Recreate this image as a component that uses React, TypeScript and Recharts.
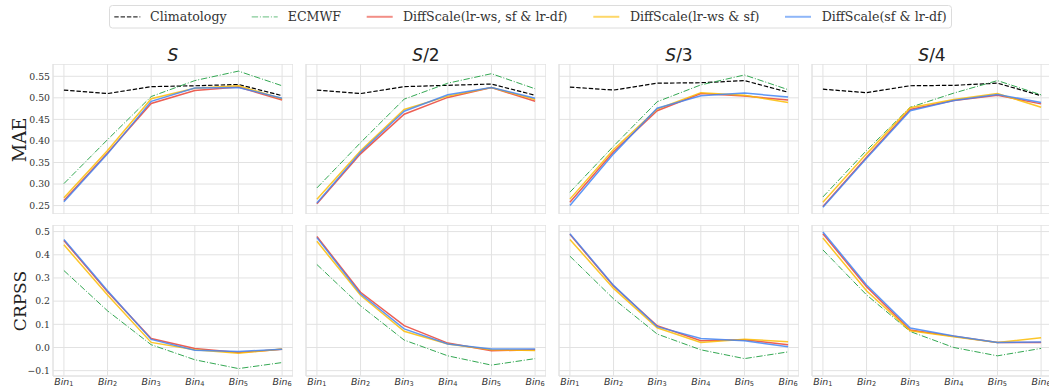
import React from 'react';
import { LineChart, Line, XAxis, YAxis, CartesianGrid, ReferenceArea } from 'recharts';

// ---------- data ----------
const BINS = [1, 2, 3, 4, 5, 6];
const PANEL_TITLES = [['S', ''], ['S', '/2'], ['S', '/3'], ['S', '/4']];
const MAE_TICKS = [0.25, 0.3, 0.35, 0.4, 0.45, 0.5, 0.55];
const CRPSS_TICKS = [-0.1, 0.0, 0.1, 0.2, 0.3, 0.4, 0.5];
const SERIES_NAMES = ['Climatology', 'ECMWF', 'DiffScale(lr-ws, sf & lr-df)', 'DiffScale(lr-ws & sf)', 'DiffScale(sf & lr-df)'];

// MAE, one row per panel (S, S/2, S/3, S/4)
const climatologyMAE = [
  [0.518, 0.510, 0.526, 0.528, 0.531, 0.505],
  [0.518, 0.510, 0.526, 0.529, 0.532, 0.506],
  [0.525, 0.518, 0.534, 0.535, 0.540, 0.513],
  [0.520, 0.512, 0.528, 0.529, 0.534, 0.505],
];
const ecmwfMAE = [
  [0.301, 0.403, 0.503, 0.540, 0.562, 0.528],
  [0.291, 0.396, 0.497, 0.534, 0.556, 0.521],
  [0.281, 0.388, 0.491, 0.530, 0.553, 0.519],
  [0.270, 0.378, 0.478, 0.511, 0.540, 0.507],
];
const diffAllMAE = [
  [0.262, 0.372, 0.487, 0.517, 0.525, 0.495],
  [0.254, 0.370, 0.462, 0.501, 0.524, 0.492],
  [0.258, 0.375, 0.470, 0.510, 0.504, 0.495],
  [0.248, 0.362, 0.473, 0.494, 0.506, 0.486],
];
const diffWsSfMAE = [
  [0.268, 0.378, 0.498, 0.522, 0.528, 0.498],
  [0.265, 0.377, 0.473, 0.504, 0.524, 0.496],
  [0.265, 0.380, 0.474, 0.512, 0.506, 0.489],
  [0.258, 0.370, 0.477, 0.496, 0.510, 0.478],
];
const diffSfDfMAE = [
  [0.259, 0.370, 0.492, 0.523, 0.524, 0.499],
  [0.256, 0.374, 0.469, 0.507, 0.524, 0.499],
  [0.250, 0.370, 0.476, 0.505, 0.511, 0.502],
  [0.246, 0.360, 0.470, 0.494, 0.508, 0.489],
];

// CRPSS
const ecmwfCRPSS = [
  [0.332, 0.158, 0.012, -0.053, -0.091, -0.065],
  [0.358, 0.180, 0.032, -0.036, -0.076, -0.048],
  [0.394, 0.210, 0.058, -0.010, -0.048, -0.019],
  [0.421, 0.227, 0.069, 0.000, -0.036, -0.004],
];
const diffAllCRPSS = [
  [0.462, 0.240, 0.039, -0.004, -0.022, -0.008],
  [0.479, 0.238, 0.094, 0.019, -0.014, -0.010],
  [0.488, 0.265, 0.094, 0.029, 0.033, 0.012],
  [0.491, 0.262, 0.075, 0.048, 0.022, 0.022],
];
const diffWsSfCRPSS = [
  [0.443, 0.226, 0.022, -0.010, -0.025, -0.007],
  [0.458, 0.225, 0.070, 0.015, -0.010, -0.013],
  [0.466, 0.255, 0.085, 0.022, 0.036, 0.025],
  [0.472, 0.245, 0.072, 0.046, 0.022, 0.042],
];
const diffSfDfCRPSS = [
  [0.466, 0.245, 0.035, -0.012, -0.017, -0.008],
  [0.474, 0.232, 0.080, 0.015, -0.007, -0.007],
  [0.491, 0.268, 0.090, 0.039, 0.029, 0.003],
  [0.498, 0.270, 0.084, 0.050, 0.022, 0.024],
];

// ---------- style ----------
const COLORS = { clim: '#000000', ecmwf: '#34A853', all: '#EA4335', wssf: '#FBBC05', sfdf: '#4285F4' };
const GRID = '#e2e2e2';
const TXT = '#333333';
const PLOT_LEFTS = [53, 306, 559, 812];
const PLOT_W = 240;
const YW = 53;
const X_DOMAIN = [0.75, 6.25];
const MAE_DOMAIN = [0.2305, 0.5785];
const CRPSS_DOMAIN = [-0.123, 0.5285];

const YTick = (props: any) => {
  const { x, y, payload } = props;
  const v = payload.value;
  const s = v < 0 ? '\u2212' + Math.abs(v).toFixed(1) : v.toFixed(props.digits);
  return (
    <text x={x} y={y} dy={3.3} textAnchor="end" fontFamily="DejaVu Serif" fontSize={9.3} fill={TXT}>
      {s}
    </text>
  );
};

const EmptyTick = () => <g />;

const BinTick = (props: any) => {
  const { x, y, payload } = props;
  return (
    <text x={x} y={y + 8.6} textAnchor="middle" fontFamily="DejaVu Sans" fontSize={9.4} fill={TXT}>
      <tspan fontStyle="italic">Bin</tspan>
      <tspan fontSize={6.6} dy={1.8}>{payload.value}</tspan>
    </text>
  );
};

function Panel({ col, row }: { col: number; row: number }) {
  const isTop = row === 0;
  const data = BINS.map((b, i) => ({
    bin: b,
    clim: isTop ? climatologyMAE[col][i] : undefined,
    ecmwf: isTop ? ecmwfMAE[col][i] : ecmwfCRPSS[col][i],
    all: isTop ? diffAllMAE[col][i] : diffAllCRPSS[col][i],
    wssf: isTop ? diffWsSfMAE[col][i] : diffWsSfCRPSS[col][i],
    sfdf: isTop ? diffSfDfMAE[col][i] : diffSfDfCRPSS[col][i],
  }));
  const domain = isTop ? MAE_DOMAIN : CRPSS_DOMAIN;
  const ticks = isTop ? MAE_TICKS : CRPSS_TICKS;
  const plotH = isTop ? 150 : 151;
  const xH = isTop ? 0 : 20;
  const top = isTop ? 64 : 224.5;
  return (
    <div style={{ position: 'absolute', left: PLOT_LEFTS[col] - YW, top }}>
      <LineChart width={YW + PLOT_W} height={plotH + xH} data={data} margin={{ top: 0, right: 0, bottom: 0, left: 0 }}>
        <CartesianGrid stroke={GRID} strokeWidth={1} />
        <XAxis
          dataKey="bin"
          type="number"
          domain={X_DOMAIN}
          ticks={BINS}
          allowDataOverflow
          height={xH}
          axisLine={false}
          tickLine={false}
          tickSize={0}
          tickMargin={0}
          interval={0}
          tick={isTop ? <EmptyTick /> : <BinTick />}
        />
        <YAxis
          type="number"
          domain={domain}
          ticks={ticks}
          allowDataOverflow
          width={YW}
          axisLine={false}
          tickLine={false}
          tickSize={0}
          tickMargin={3}
          interval={0}
          tick={col === 0 ? <YTick digits={isTop ? 2 : 1} /> : <EmptyTick />}
        />
        <ReferenceArea x1={X_DOMAIN[0]} x2={X_DOMAIN[1]} y1={domain[0]} y2={domain[1]} fill="none" fillOpacity={0} stroke={GRID} strokeWidth={1} ifOverflow="visible" />
        {isTop && (
          <Line dataKey="clim" stroke={COLORS.clim} strokeWidth={1.2} strokeDasharray="4.4 1.9" dot={false} isAnimationActive={false} />
        )}
        <Line dataKey="ecmwf" stroke={COLORS.ecmwf} strokeWidth={1} strokeDasharray="6.4 1.8 1 1.8" dot={false} isAnimationActive={false} />
        <Line dataKey="all" stroke={COLORS.all} strokeOpacity={0.85} strokeWidth={1.5} dot={false} isAnimationActive={false} />
        <Line dataKey="wssf" stroke={COLORS.wssf} strokeOpacity={0.85} strokeWidth={1.5} dot={false} isAnimationActive={false} />
        <Line dataKey="sfdf" stroke={COLORS.sfdf} strokeOpacity={0.85} strokeWidth={1.5} dot={false} isAnimationActive={false} />
      </LineChart>
    </div>
  );
}

function Legend() {
  const items = [
    { h: 114.3, t: 150, color: COLORS.clim, dash: '4.4 1.9', w: 1.2, op: 0.8 },
    { h: 251.7, t: 287.7, color: COLORS.ecmwf, dash: '6.4 1.8 1 1.8', w: 1.2, op: 0.6 },
    { h: 366.7, t: 403, color: COLORS.all, dash: undefined, w: 2, op: 0.6 },
    { h: 593.3, t: 630, color: COLORS.wssf, dash: undefined, w: 2, op: 0.6 },
    { h: 785, t: 821.7, color: COLORS.sfdf, dash: undefined, w: 2, op: 0.6 },
  ];
  return (
    <g>
      <rect x={109.5} y={5.5} width={842} height={22.5} rx={3} fill="#fff" stroke="#dcdcdc" strokeWidth={1} />
      {items.map((it, i) => (
        <g key={i}>
          <line x1={it.h} x2={it.h + 26} y1={16.8} y2={16.8} stroke={it.color} strokeWidth={it.w} strokeDasharray={it.dash} strokeOpacity={it.op} />
          <text x={it.t} y={21} fontFamily="DejaVu Serif" fontSize={12.6} fill={TXT}>{SERIES_NAMES[i]}</text>
        </g>
      ))}
    </g>
  );
}

export default function App() {
  return (
    <div style={{ position: 'absolute', left: 0, top: 0, width: 1049, height: 387, overflow: 'hidden', background: '#fff' }}>
      {[0, 1].map((row) => [0, 1, 2, 3].map((col) => <Panel key={row + '-' + col} row={row} col={col} />))}
      <svg width={1049} height={387} style={{ position: 'absolute', left: 0, top: 0, pointerEvents: 'none' }}>
        <Legend />
        {PANEL_TITLES.map((t, i) => (
          <text key={i} x={PLOT_LEFTS[i] + PLOT_W / 2} y={61} textAnchor="middle" fontFamily="DejaVu Sans" fontSize={17} fill="#222">
            <tspan fontStyle="italic">{t[0]}</tspan>
            {t[1] && <tspan>{t[1]}</tspan>}
          </text>
        ))}
        <text x={26} y={140} transform="rotate(-90 26 140)" textAnchor="middle" fontFamily="DejaVu Serif" fontSize={18} fill="#222">MAE</text>
        <text x={26} y={301} transform="rotate(-90 26 301)" textAnchor="middle" fontFamily="DejaVu Serif" fontSize={17} fill="#222">CRPSS</text>
      </svg>
    </div>
  );
}
